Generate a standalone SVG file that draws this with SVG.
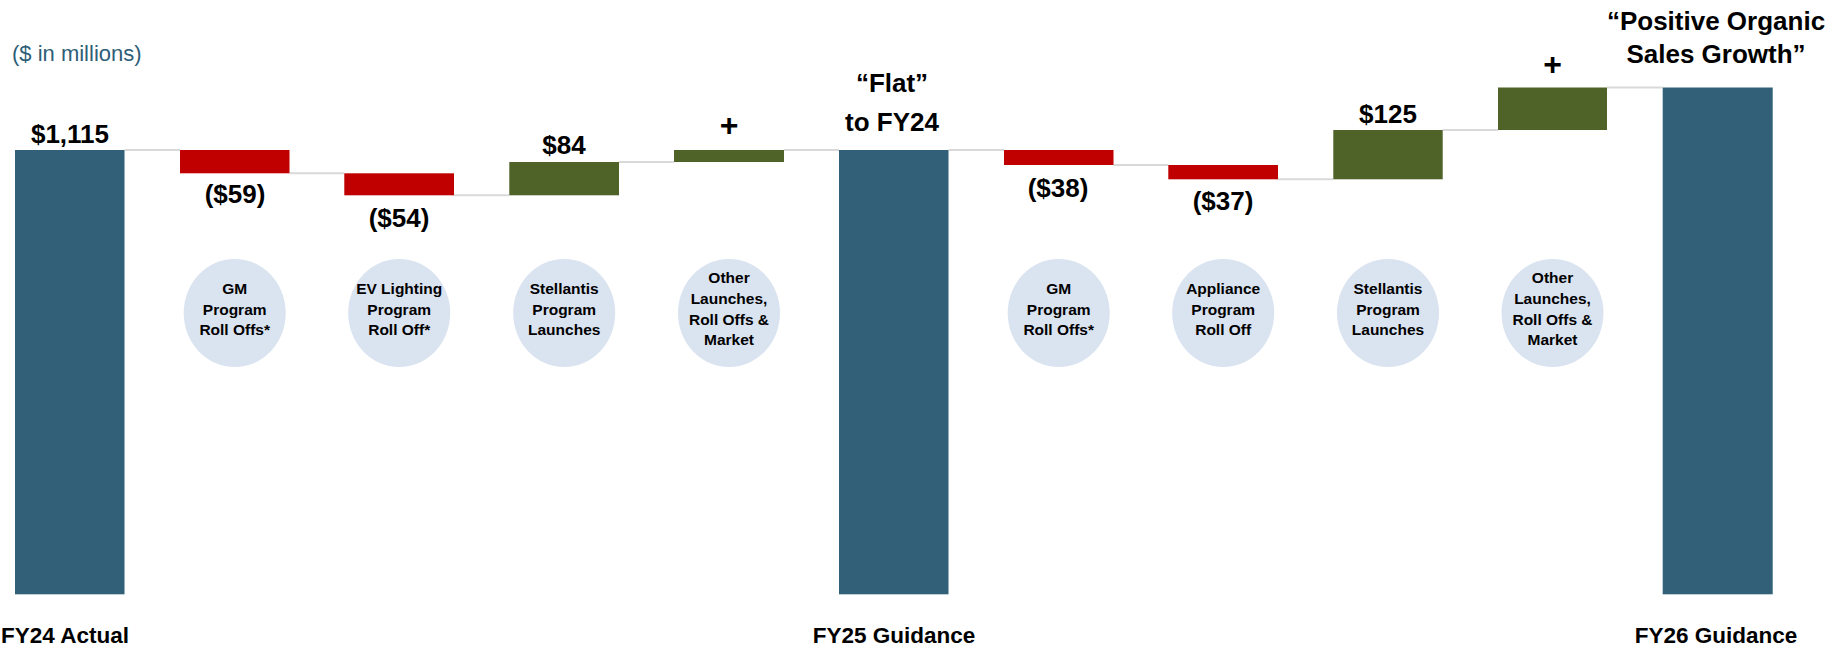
<svg xmlns="http://www.w3.org/2000/svg" width="1837" height="648" viewBox="0 0 1837 648">
<style>
.total{fill:#316078}
.neg{fill:#C00000}
.pos{fill:#4F6228}
.conn{stroke:#D9D9D9;stroke-width:2;fill:none}
.val{font-family:"Liberation Sans",Arial,sans-serif;font-weight:bold;font-size:26px;fill:#000;text-anchor:middle}
.plus{font-family:"Liberation Sans",Arial,sans-serif;font-weight:bold;font-size:32px;fill:#000;text-anchor:middle}
.cat{font-family:"Liberation Sans",Arial,sans-serif;font-weight:bold;font-size:22.5px;fill:#000;text-anchor:middle}
.bub{fill:#DAE3F0}
.bt{font-family:"Liberation Sans",Arial,sans-serif;font-weight:bold;font-size:15.5px;fill:#000;text-anchor:middle}
.unit{font-family:"Liberation Sans",Arial,sans-serif;font-size:22px;fill:#2E5E78}
</style>
<rect width="1837" height="648" fill="#fff"/>
<text class="unit" x="12" y="61">($ in millions)</text>
<g id="connectors">
<line class="conn" x1="124.5" y1="150" x2="180" y2="150"/>
<line class="conn" x1="289.5" y1="173.3" x2="344.3" y2="173.3"/>
<line class="conn" x1="454" y1="195.3" x2="509.3" y2="195.3"/>
<line class="conn" x1="619" y1="162" x2="674" y2="162"/>
<line class="conn" x1="784" y1="150" x2="839" y2="150"/>
<line class="conn" x1="948.5" y1="150" x2="1004" y2="150"/>
<line class="conn" x1="1113.5" y1="165" x2="1168.3" y2="165"/>
<line class="conn" x1="1278" y1="179.3" x2="1333.3" y2="179.3"/>
<line class="conn" x1="1442.7" y1="130" x2="1498" y2="130"/>
<line class="conn" x1="1607" y1="87.5" x2="1662.7" y2="87.5"/>
</g>
<g id="fy24">
<rect class="total" x="15" y="150" width="109.5" height="444.3"/>
<text class="val" x="70" y="143">$1,115</text>
<text class="cat" x="1" y="642.7" style="text-anchor:start">FY24 Actual</text>
</g>
<g id="gm1">
<rect class="neg" x="180" y="150" width="109.5" height="23.3"/>
<text class="val" x="235" y="203">($59)</text>
<ellipse class="bub" cx="234.7" cy="313" rx="51" ry="54"/>
<text class="bt" x="234.7" y="294">GM</text>
<text class="bt" x="234.7" y="314.5">Program</text>
<text class="bt" x="234.7" y="335">Roll Offs*</text>
</g>
<g id="ev">
<rect class="neg" x="344.3" y="173.3" width="109.7" height="22"/>
<text class="val" x="399" y="226.7">($54)</text>
<ellipse class="bub" cx="399.2" cy="313" rx="51" ry="54"/>
<text class="bt" x="399.2" y="294">EV Lighting</text>
<text class="bt" x="399.2" y="314.5">Program</text>
<text class="bt" x="399.2" y="335">Roll Off*</text>
</g>
<g id="stel1">
<rect class="pos" x="509.3" y="162" width="109.7" height="33.3"/>
<text class="val" x="564" y="154">$84</text>
<ellipse class="bub" cx="564.2" cy="313" rx="51" ry="54"/>
<text class="bt" x="564.2" y="294">Stellantis</text>
<text class="bt" x="564.2" y="314.5">Program</text>
<text class="bt" x="564.2" y="335">Launches</text>
</g>
<g id="other1">
<rect class="pos" x="674" y="150" width="110" height="12"/>
<text class="plus" x="729" y="136">+</text>
<ellipse class="bub" cx="729" cy="313" rx="51" ry="54"/>
<text class="bt" x="729" y="283">Other</text>
<text class="bt" x="729" y="304">Launches,</text>
<text class="bt" x="729" y="324.5">Roll Offs &amp;</text>
<text class="bt" x="729" y="345">Market</text>
</g>
<g id="fy25">
<rect class="total" x="839" y="150" width="109.5" height="444.3"/>
<text class="val" x="892" y="92">“Flat”</text>
<text class="val" x="892" y="131">to FY24</text>
<text class="cat" x="894" y="642.7">FY25 Guidance</text>
</g>
<g id="gm2">
<rect class="neg" x="1004" y="150" width="109.5" height="15"/>
<text class="val" x="1058" y="196.7">($38)</text>
<ellipse class="bub" cx="1058.7" cy="313" rx="51" ry="54"/>
<text class="bt" x="1058.7" y="294">GM</text>
<text class="bt" x="1058.7" y="314.5">Program</text>
<text class="bt" x="1058.7" y="335">Roll Offs*</text>
</g>
<g id="appliance">
<rect class="neg" x="1168.3" y="165" width="109.7" height="14.3"/>
<text class="val" x="1223" y="210">($37)</text>
<ellipse class="bub" cx="1223.2" cy="313" rx="51" ry="54"/>
<text class="bt" x="1223.2" y="294">Appliance</text>
<text class="bt" x="1223.2" y="314.5">Program</text>
<text class="bt" x="1223.2" y="335">Roll Off</text>
</g>
<g id="stel2">
<rect class="pos" x="1333.3" y="130" width="109.4" height="49.3"/>
<text class="val" x="1388" y="123.3">$125</text>
<ellipse class="bub" cx="1388" cy="313" rx="51" ry="54"/>
<text class="bt" x="1388" y="294">Stellantis</text>
<text class="bt" x="1388" y="314.5">Program</text>
<text class="bt" x="1388" y="335">Launches</text>
</g>
<g id="other2">
<rect class="pos" x="1498" y="87.5" width="109" height="42.5"/>
<text class="plus" x="1552.5" y="75">+</text>
<ellipse class="bub" cx="1552.5" cy="313" rx="51" ry="54"/>
<text class="bt" x="1552.5" y="283">Other</text>
<text class="bt" x="1552.5" y="304">Launches,</text>
<text class="bt" x="1552.5" y="324.5">Roll Offs &amp;</text>
<text class="bt" x="1552.5" y="345">Market</text>
</g>
<g id="fy26">
<rect class="total" x="1662.7" y="87.5" width="110" height="506.8"/>
<text class="val" x="1716" y="30">“Positive Organic</text>
<text class="val" x="1716" y="62.5">Sales Growth”</text>
<text class="cat" x="1716" y="642.7">FY26 Guidance</text>
</g>
</svg>
